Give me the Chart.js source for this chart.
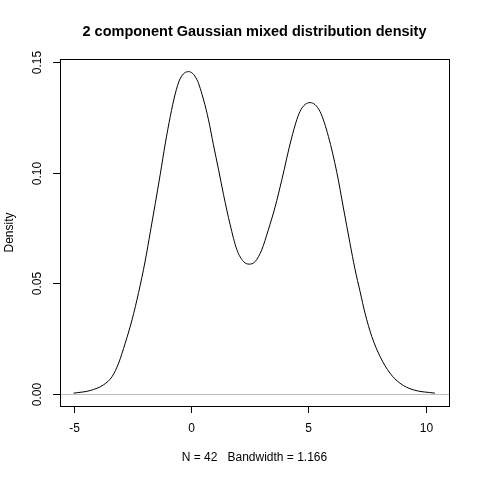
<!DOCTYPE html>
<html>
<head>
<meta charset="utf-8">
<script src="https://cdn.jsdelivr.net/npm/chart.js@4"></script>
<style>
  html, body { margin: 0; padding: 0; background: #fff; }
  #wrap { width: 480px; height: 480px; }
</style>
</head>
<body>
<div id="wrap"><canvas id="densityChart" width="480" height="480"></canvas></div>
<script>
// Density curve
const densityX = [-5.0, -4.29, -3.72, -3.36, -3.08, -2.8, -2.51, -2.23, -1.95, -1.73, -1.52, -1.31, -1.09,
    -0.88, -0.67, -0.46, -0.1, 0.26, 0.54, 0.75, 0.96, 1.18, 1.39, 1.67, 1.96, 2.24, 2.49, 2.74,
    3.02, 3.3, 3.59, 3.87, 4.3, 4.65, 5.08, 5.5, 5.86, 6.22, 6.5, 6.78, 6.99, 7.21, 7.42, 7.71,
    8.06, 8.48, 8.91, 9.48, 10.4];
const densityY = [0.0003, 0.0015, 0.0041, 0.0078, 0.0139, 0.0229, 0.0334, 0.0458, 0.0600, 0.0732, 0.0860, 0.0990, 0.1133,
    0.1253, 0.1355, 0.1424, 0.1456, 0.1419, 0.1328, 0.1238, 0.1125, 0.1012, 0.0900, 0.0765, 0.0651, 0.0598, 0.0586, 0.0598,
    0.0651, 0.0741, 0.0845, 0.0965, 0.1160, 0.1276, 0.1316, 0.1276, 0.1163, 0.1000, 0.0840, 0.0680, 0.0565, 0.0462, 0.0365, 0.0259,
    0.0169, 0.0094, 0.0048, 0.0018, 0.0003];

const xTicks = [-5, 0, 5, 10];
const xTickLabels = ['-5', '0', '5', '10'];
const yTicks = [0, 0.05, 0.10, 0.15];
const yTickLabels = ['0.00', '0.05', '0.10', '0.15'];

const mainTitle = '2 component Gaussian mixed distribution density';
const xTitle = 'N = 42   Bandwidth = 1.166';
const yTitle = 'Density';

const font = '"Liberation Sans", Arial, sans-serif';

// R style frame, ticks and labels
const rFrame = {
    id: 'rFrame',
    beforeDatasetsDraw(chart) {
        const ctx = chart.ctx;
        const area = chart.chartArea;
        const y0 = Math.round(chart.scales.y.getPixelForValue(0)) + 0.5;
        ctx.save();
        ctx.strokeStyle = '#bebebe';
        ctx.lineWidth = 1;
        ctx.beginPath();
        ctx.moveTo(area.left, y0);
        ctx.lineTo(area.right, y0);
        ctx.stroke();
        ctx.restore();
    },
    afterDraw(chart) {
        const ctx = chart.ctx;
        const area = chart.chartArea;
        const xs = chart.scales.x;
        const ys = chart.scales.y;
        ctx.save();
        ctx.strokeStyle = '#000';
        ctx.fillStyle = '#000';
        ctx.lineWidth = 1;
        ctx.strokeRect(area.left + 0.5, area.top + 0.5, area.right - area.left, area.bottom - area.top);

        ctx.font = '12px ' + font;
        ctx.textAlign = 'center';
        ctx.textBaseline = 'middle';
        xTicks.forEach((v, i) => {
            const px = Math.round(xs.getPixelForValue(v)) + 0.5;
            ctx.beginPath();
            ctx.moveTo(px, area.bottom);
            ctx.lineTo(px, area.bottom + 7);
            ctx.stroke();
            ctx.fillText(xTickLabels[i], px, area.bottom + 23);
        });
        yTicks.forEach((v, i) => {
            const py = Math.round(ys.getPixelForValue(v)) + 0.5;
            ctx.beginPath();
            ctx.moveTo(area.left - 7, py);
            ctx.lineTo(area.left, py);
            ctx.stroke();
            ctx.save();
            ctx.translate(area.left - 22, py);
            ctx.rotate(-Math.PI / 2);
            ctx.fillText(yTickLabels[i], 0, 0);
            ctx.restore();
        });

        ctx.fillText(xTitle, (area.left + area.right) / 2, 458);
        ctx.save();
        ctx.translate(10, (area.top + area.bottom) / 2);
        ctx.rotate(-Math.PI / 2);
        ctx.fillText(yTitle, 0, 0);
        ctx.restore();

        ctx.font = 'bold 14.5px ' + font;
        ctx.fillText(mainTitle, (area.left + area.right) / 2, 32);
        ctx.restore();
    }
};

const ctx = document.getElementById('densityChart').getContext('2d');
const densityChart = new Chart(ctx, {
    type: 'line',
    data: {
        datasets: [{
            label: 'Density',
            data: densityX.map((x, i) => ({ x: x, y: densityY[i] })),
            borderColor: '#000',
            borderWidth: 1,
            pointRadius: 0,
            fill: false,
            cubicInterpolationMode: 'monotone'
        }]
    },
    options: {
        responsive: false,
        animation: false,
        layout: {
            padding: { top: 59, right: 31, left: 0, bottom: 0 }
        },
        scales: {
            x: {
                type: 'linear',
                min: -5.58,
                max: 11.0,
                ticks: { display: false },
                grid: { display: false },
                border: { display: false },
                afterFit: function(scale) { scale.height = 74; }
            },
            y: {
                min: -0.0055,
                max: 0.1513,
                ticks: { display: false },
                grid: { display: false },
                border: { display: false },
                afterFit: function(scale) { scale.width = 60; }
            }
        },
        plugins: {
            legend: { display: false },
            tooltip: { enabled: false }
        }
    },
    plugins: [rFrame]
});
</script>
</body>
</html>
